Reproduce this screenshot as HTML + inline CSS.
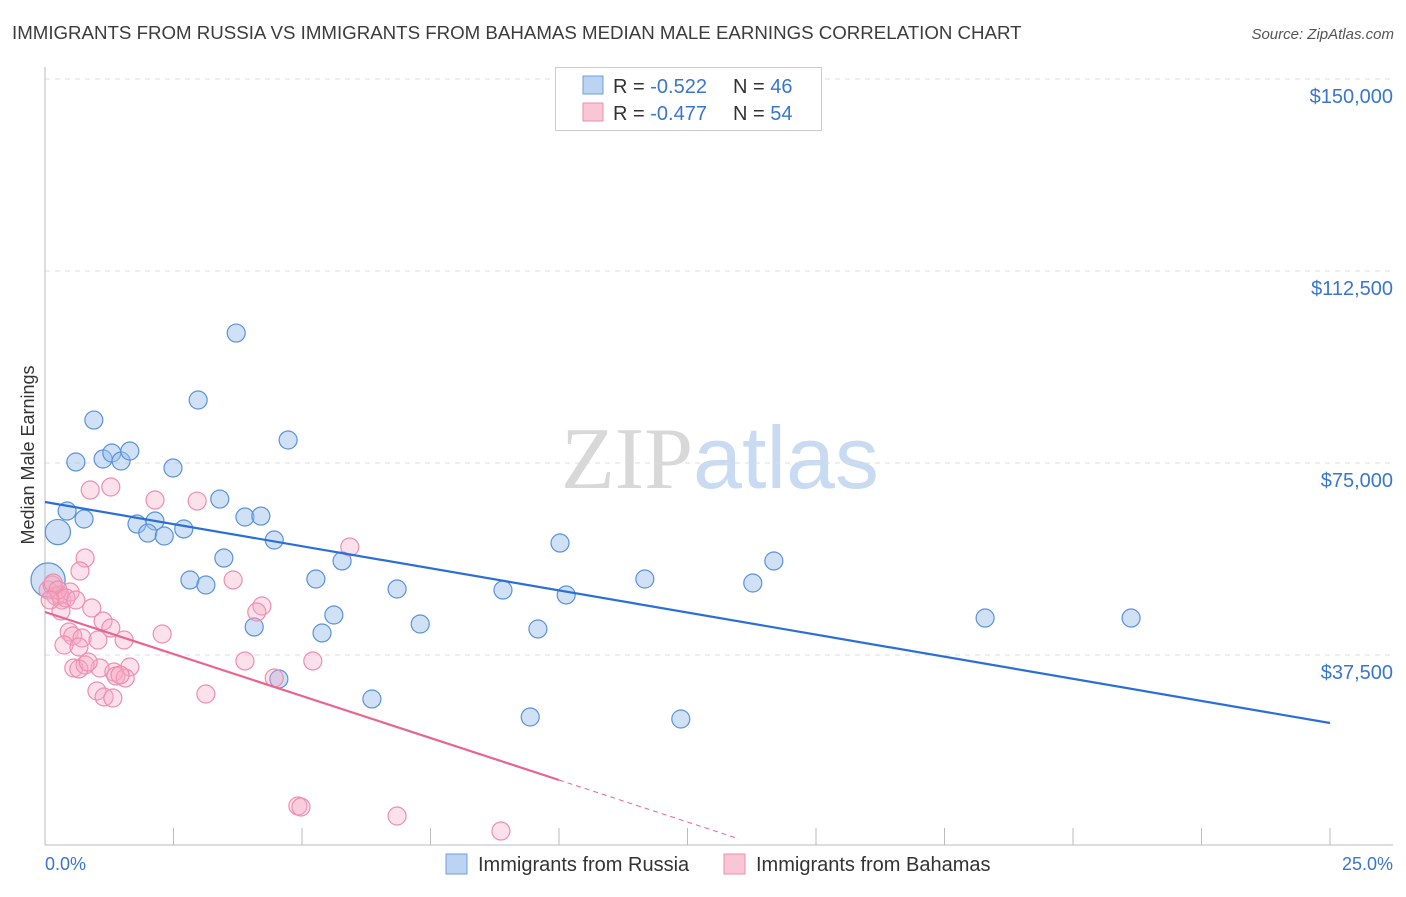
<!DOCTYPE html>
<html><head><meta charset="utf-8"><style>
body{margin:0;background:#fff;font-family:"Liberation Sans",sans-serif;}
svg text{font-family:"Liberation Sans",sans-serif;}
</style></head><body>
<svg id="chart" width="1406" height="892" xmlns="http://www.w3.org/2000/svg">
<text x="12" y="39" font-size="18.7" fill="#3c3c3c">IMMIGRANTS FROM RUSSIA VS IMMIGRANTS FROM BAHAMAS MEDIAN MALE EARNINGS CORRELATION CHART</text>
<text x="1394" y="39" font-size="15" fill="#555" text-anchor="end" font-style="italic">Source: ZipAtlas.com</text>
<text x="720" y="488" font-size="88" text-anchor="middle"><tspan fill="#d8d8d8" font-family="Liberation Serif">ZIP</tspan><tspan fill="#c9dbf2">atlas</tspan></text>
<text transform="translate(34,455) rotate(-90)" font-size="18" fill="#333" text-anchor="middle">Median Male Earnings</text>
<g id="grid"></g><g id="axes"></g><g id="marks"></g><g id="lines"></g>
<g>
<rect x="555.5" y="67.5" width="266" height="63" fill="#fff" stroke="#ccc"/>
<rect x="583" y="76" width="20" height="18" fill="#bcd3f2" stroke="#6d9ee0"/>
<rect x="583" y="103" width="20" height="18" fill="#f9c6d5" stroke="#ec8fab"/>
<text x="613" y="93" font-size="20" fill="#333">R = <tspan fill="#3a75d0">-0.522</tspan></text>
<text x="733" y="93" font-size="20" fill="#333">N = <tspan fill="#3a75d0">46</tspan></text>
<text x="613" y="120" font-size="20" fill="#333">R = <tspan fill="#3a75d0">-0.477</tspan></text>
<text x="733" y="120" font-size="20" fill="#333">N = <tspan fill="#3a75d0">54</tspan></text>
</g>
<g>
<rect x="446" y="854" width="21" height="20" fill="#bcd3f2" stroke="#6d9ee0"/>
<text x="478" y="871" font-size="20" fill="#333">Immigrants from Russia</text>
<rect x="724" y="854" width="21" height="20" fill="#f9c6d5" stroke="#ec8fab"/>
<text x="756" y="871" font-size="20" fill="#333">Immigrants from Bahamas</text>
</g>
<text x="45" y="870" font-size="18" fill="#3a75d0">0.0%</text>
<text x="1393" y="870" font-size="18" fill="#3a75d0" text-anchor="end">25.0%</text>
</svg>
<script>
const yTicks=[37500,75000,112500,150000];
const yTickLabels=["$37,500","$75,000","$112,500","$150,000"];
const xTicks=[0,2.5,5,7.5,10,12.5,15,17.5,20,22.5,25];
const russiaX=[3.72,2.98,0.95,4.73,0.60,1.13,1.30,1.48,1.65,2.49,3.40,0.43,0.76,1.79,2.14,2.00,2.32,2.70,3.89,4.20,0.25,4.46,3.48,5.78,10.02,14.18,2.82,3.13,5.27,6.85,8.91,10.14,11.67,13.77,5.62,4.07,5.39,7.30,9.59,18.29,21.13,4.55,6.36,9.44,12.37,0.06];
const russiaY=[100380,87300,83390,79490,75200,75780,76950,75390,77340,74020,67960,65620,64060,63080,63670,61320,60740,62110,64450,64640,61520,59960,56440,55860,59370,55860,52150,51170,52340,50390,50190,49220,52340,51560,45310,42970,41800,43550,42580,44720,44720,32810,28910,25390,25000,52150];
const russiaSize=[1,1,1,1,1,1,1,1,1,1,1,1,1,1,1,1,1,1,1,1,1.4,1,1,1,1,1,1,1,1,1,1,1,1,1,1,1,1,1,1,1,1,1,1,1,1,1.9];
const bahamasX=[0.06,0.14,0.21,0.29,0.33,0.49,0.16,0.78,0.68,0.88,1.28,2.14,2.96,5.93,3.66,0.31,0.91,1.13,0.47,0.54,1.28,0.72,0.37,0.66,1.03,1.54,2.28,4.22,4.12,1.07,0.56,0.78,0.66,1.34,1.38,1.65,1.56,1.01,1.15,1.32,3.13,3.89,5.21,4.46,4.92,4.98,6.85,8.87,0.25,0.41,0.60,0.10,1.46,0.84];
const bahamasY=[50190,51170,49020,49220,48240,49800,51560,56440,53900,69720,70310,67770,67570,58590,52150,46090,46680,44140,41990,41210,42770,40820,39450,39060,40430,40430,41600,47070,45900,34960,34960,35550,34770,34180,33400,35160,33010,30470,29300,29100,29880,36330,36330,33010,8010,7810,6050,3120,50190,48630,48240,48240,33590,36130];
const russiaTrend=[67383,24219];
const bahamasTrend=[45898,13086];
const bahamasSolidEnd=10, bahamasDashEnd=13.5;

const NS="http://www.w3.org/2000/svg";
const sx=v=>45+v/25*1285;
const sy=v=>847-v/37500*192;
function mk(tag,attrs,parent){const e=document.createElementNS(NS,tag);for(const k in attrs)e.setAttribute(k,attrs[k]);document.getElementById(parent).appendChild(e);return e;}
yTicks.forEach((t,i)=>{
  const l=mk('line',{x1:45,x2:1393,y1:sy(t),y2:sy(t),stroke:'#ddd','stroke-dasharray':'5,5'},'grid');
  
  
  const tx=mk('text',{x:1393,y:sy(t)+24,'font-size':20,fill:'#3a75d0','text-anchor':'end'},'grid');
  tx.textContent=yTickLabels[i];
  
  
});
const ax=mk('line',{x1:45,x2:1393,y1:845,y2:845,stroke:'#bbb'},'axes');


const ay=mk('line',{x1:45,x2:45,y1:67,y2:845,stroke:'#bbb'},'axes');


xTicks.forEach(t=>{
  const l=mk('line',{x1:sx(t),x2:sx(t),y1:828,y2:845,stroke:'#bbb'},'axes');
  
  
});
russiaX.forEach((x,i)=>{
  const c=mk('circle',{cx:sx(x),cy:sy(russiaY[i]),r:9*russiaSize[i],fill:'rgba(150,188,235,0.45)',stroke:'#5a92dc','stroke-width':1.2},'marks');
  
  
});
bahamasX.forEach((x,i)=>{
  const c=mk('circle',{cx:sx(x),cy:sy(bahamasY[i]),r:9,fill:'rgba(246,170,195,0.35)',stroke:'#ee8fac','stroke-width':1.2},'marks');
  
  
});
const rl=mk('line',{x1:sx(0),y1:sy(russiaTrend[0]),x2:sx(25),y2:sy(russiaTrend[1]),stroke:'#2a6fd6','stroke-width':2.2},'lines');


const bslope=(bahamasTrend[1]-bahamasTrend[0])/10;
const bl=mk('line',{x1:sx(0),y1:sy(bahamasTrend[0]),x2:sx(bahamasSolidEnd),y2:sy(bahamasTrend[0]+bslope*bahamasSolidEnd),stroke:'#e8668e','stroke-width':2.2},'lines');


const bd=mk('line',{x1:sx(bahamasSolidEnd),y1:sy(bahamasTrend[0]+bslope*bahamasSolidEnd),x2:sx(bahamasDashEnd),y2:sy(bahamasTrend[0]+bslope*bahamasDashEnd),stroke:'#e8668e','stroke-width':1,'stroke-dasharray':'5,4'},'lines');


</script>
</body></html>
